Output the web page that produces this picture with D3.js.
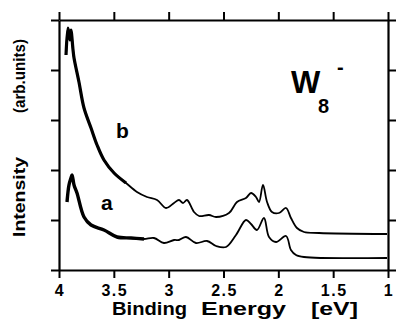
<!DOCTYPE html>
<html>
<head>
<meta charset="utf-8">
<script src="https://cdn.jsdelivr.net/npm/d3@7"></script>
<style>
  body { margin: 0; background: #fff; }
  svg { display: block; }
  text { font-family: "Liberation Sans", Arial, sans-serif; font-weight: bold; fill: #000; }
</style>
</head>
<body>
<div id="chart"></div>
<script>
// Binding energy (eV) and intensity (arb. units)
const energyB = [3.936, 3.918, 3.900, 3.891, 3.872, 3.863, 3.818, 3.772, 3.708, 3.653, 3.590, 3.498, 3.389, 3.289, 3.198, 3.106, 3.024, 2.951, 2.906, 2.869, 2.833, 2.769, 2.723, 2.632, 2.568, 2.450, 2.377, 2.295, 2.249, 2.204, 2.176, 2.140, 2.103, 2.058, 1.994, 1.930, 1.885, 1.830, 1.766, 1.629, 1.009];
const intensityB = [4.30, 4.84, 4.60, 4.80, 4.40, 4.24, 3.76, 3.24, 2.84, 2.50, 2.20, 1.94, 1.74, 1.56, 1.46, 1.40, 1.24, 1.34, 1.40, 1.34, 1.40, 1.16, 1.08, 1.10, 1.06, 1.14, 1.36, 1.44, 1.54, 1.46, 1.36, 1.70, 1.36, 1.16, 1.14, 1.24, 1.04, 0.84, 0.76, 0.74, 0.72];

const energyA = [3.927, 3.909, 3.891, 3.881, 3.863, 3.836, 3.772, 3.708, 3.590, 3.471, 3.343, 3.225, 3.134, 3.043, 2.951, 2.906, 2.842, 2.751, 2.650, 2.568, 2.477, 2.386, 2.295, 2.249, 2.195, 2.131, 2.085, 2.021, 1.930, 1.885, 1.839, 1.766, 1.009];
const intensityA = [1.36, 1.70, 1.84, 1.90, 1.70, 1.54, 1.06, 0.90, 0.80, 0.66, 0.64, 0.62, 0.64, 0.54, 0.60, 0.60, 0.66, 0.54, 0.58, 0.48, 0.46, 0.70, 1.00, 0.92, 0.80, 1.04, 0.66, 0.56, 0.68, 0.40, 0.30, 0.26, 0.24];

const xTicks = [4, 3.5, 3, 2.5, 2, 1.5, 1];
const xTickLabels = ["4", "3.5", "3", "2.5", "2", "1.5", "1"];
const yTicks = [0, 1, 2, 3, 4, 5];

const width = 396, height = 325;
const margin = {top: 20, right: 8, bottom: 55, left: 59};

const svg = d3.select("#chart").append("svg")
    .attr("width", width)
    .attr("height", height);

const x = d3.scaleLinear().domain([4, 1]).range([margin.left, width - margin.right]);
const y = d3.scaleLinear().domain([0, 5]).range([height - margin.bottom, margin.top]);

function styleAxis(g) {
    g.selectAll("path, line").attr("stroke", "#000").attr("stroke-width", 2);
    g.select(".domain").attr("stroke-width", 2.2);
}

// Frame: four axes, ticks pointing outwards
svg.append("g")
    .attr("transform", `translate(0,${y(0)})`)
    .call(d3.axisBottom(x).tickValues(xTicks).tickSize(8).tickSizeOuter(0).tickFormat(""))
    .call(styleAxis);

svg.append("g")
    .attr("transform", `translate(0,${y(5)})`)
    .call(d3.axisTop(x).tickValues(xTicks).tickSize(8).tickSizeOuter(0).tickFormat(""))
    .call(styleAxis);

svg.append("g")
    .attr("transform", `translate(${x(4)},0)`)
    .call(d3.axisLeft(y).tickValues(yTicks).tickSize(8).tickSizeOuter(0).tickFormat(""))
    .call(styleAxis);

svg.append("g")
    .attr("transform", `translate(${x(1)},0)`)
    .call(d3.axisRight(y).tickValues(yTicks).tickSize(8).tickSizeOuter(0).tickFormat(""))
    .call(styleAxis);

// Spectra
const line = d3.line()
    .x(d => x(d[0]))
    .y(d => y(d[1]))
    .curve(d3.curveCatmullRom.alpha(0.5));

const dataB = d3.zip(energyB, intensityB);
const dataA = d3.zip(energyA, intensityA);

function drawSpectrum(data, noisyFrom, noisyWidth) {
    svg.append("path")
        .datum(data)
        .attr("fill", "none")
        .attr("stroke", "#000")
        .attr("stroke-width", 1.8)
        .attr("d", line);
    // noisy start of the scan looks thicker
    svg.append("path")
        .datum(data.filter(d => d[0] >= noisyFrom))
        .attr("fill", "none")
        .attr("stroke", "#000")
        .attr("stroke-width", noisyWidth)
        .attr("stroke-linejoin", "round")
        .attr("d", line);
}
drawSpectrum(dataB, 3.3, 3.2);
drawSpectrum(dataA, 3.2, 3.4);

// Curve labels
svg.append("text").attr("x", 116).attr("y", 138).style("font-size", "21px").text("b");
svg.append("text").attr("x", 101).attr("y", 210).style("font-size", "21px").text("a");

// W8- label
const w = svg.append("text").attr("x", 291).attr("y", 93);
w.append("tspan").style("font-size", "31px").text("W");
w.append("tspan").attr("x", 318).attr("y", 113).style("font-size", "20px").text("8");
w.append("tspan").attr("x", 337).attr("y", 74).style("font-size", "20px").text("-");

// X axis title, word by word (the original typeface is wide)
const xTitle = [["Binding", 112, 75], ["Energy", 201, 85], ["[eV]", 311, 47]];
xTitle.forEach(([t, x0, len]) => {
    svg.append("text")
        .attr("x", x0)
        .attr("y", 315)
        .attr("textLength", len)
        .attr("lengthAdjust", "spacingAndGlyphs")
        .style("font-size", "19px")
        .text(t);
});

// Y axis title
const yTitle = [["Intensity", 197, 80], ["(arb.units)", 76, 74]];
yTitle.forEach(([t, cy, len]) => {
    svg.append("text")
        .attr("transform", `translate(25,${cy + len / 2}) rotate(-90)`)
        .attr("textLength", len)
        .attr("lengthAdjust", "spacingAndGlyphs")
        .style("font-size", "16px")
        .text(t);
});

// X tick labels
xTicks.forEach((v, i) => {
    svg.append("text")
        .attr("x", x(v) + 1)
        .attr("y", 296)
        .attr("text-anchor", "middle")
        .style("font-size", "16px")
        .style("letter-spacing", "1.5px")
        .text(xTickLabels[i]);
});
</script>
</body>
</html>
